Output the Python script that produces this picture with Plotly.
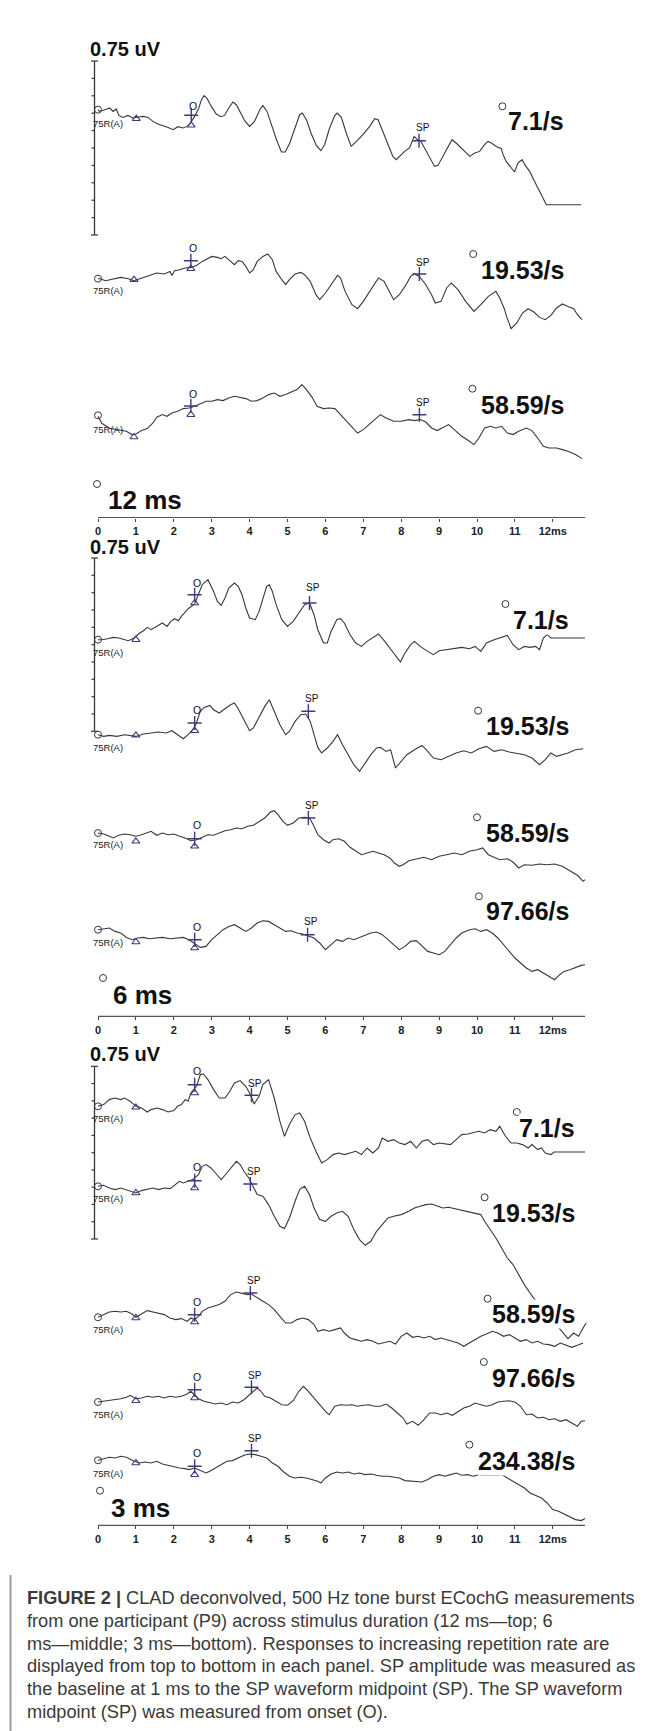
import plotly.graph_objects as go

# ---------------------------------------------------------------------------
# DATA
# waveforms: (time in ms, amplitude in scan units, + = up; the 0.75 uV bar = 173 units)
# ---------------------------------------------------------------------------
DURATIONS = ["12 ms", "6 ms", "3 ms"]
RATES = [
    ["7.1/s", "19.53/s", "58.59/s"],
    ["7.1/s", "19.53/s", "58.59/s", "97.66/s"],
    ["7.1/s", "19.53/s", "58.59/s", "97.66/s", "234.38/s"],
]
TICK_MS = list(range(13))
TICK_LABELS = [str(i) for i in range(12)] + ["12ms"]
SCALE_LABEL = "0.75 uV"
CHANNEL_LABEL = "75R(A)"
ONSET_LABEL = "O"
SP_LABEL = "SP"

# ---- 12 ms panel ----
W12_R7 = [(0.00,0),(0.04,-1.7),(0.18,0),(0.31,1.7),(0.40,-1.7),(0.48,0.7),(0.55,-5.7),(0.66,-7.7),(0.79,-5.7),(0.92,-8.3),(1.06,-7.3),(1.19,-6.7),(1.32,-7.7),(1.45,-11.7),(1.58,-14.3),(1.72,-16),(1.85,-17.7),(1.98,-20),(2.11,-17),(2.24,-18.3),(2.36,-16.7),(2.44,-13.3),(2.55,-6.7),(2.66,1.7),(2.73,10),(2.80,14),(2.88,11),(2.99,3.3),(3.12,-4.3),(3.24,-7),(3.34,-5.7),(3.45,1.7),(3.56,7.7),(3.65,5),(3.74,-1.7),(3.87,-11),(4.00,-16.7),(4.13,-11.7),(4.27,0),(4.35,4.3),(4.46,-1.7),(4.57,-15),(4.71,-30),(4.84,-42.3),(4.94,-42.3),(5.06,-33.3),(5.19,-18.3),(5.32,-5),(5.39,-3.3),(5.50,-10),(5.63,-24.3),(5.76,-35.7),(5.88,-41),(5.98,-35),(6.11,-18.3),(6.25,-5.7),(6.31,-3.3),(6.42,-7.7),(6.55,-23.3),(6.68,-36.7),(6.82,-31.7),(6.99,-25),(7.17,-16.7),(7.30,-9),(7.39,-10),(7.52,-21.7),(7.65,-35),(7.78,-46.7),(7.87,-50),(8.00,-45),(8.09,-41.7),(8.22,-38.3),(8.34,-26.7),(8.43,-30),(8.52,-31.7),(8.64,-40),(8.78,-50),(8.88,-56.7),(8.97,-55.7),(9.10,-46.7),(9.23,-36.7),(9.34,-30),(9.45,-33.3),(9.59,-38.3),(9.72,-43.3),(9.81,-46.7),(9.94,-43.3),(10.07,-41.7),(10.20,-35),(10.29,-31.7),(10.38,-33.3),(10.51,-36.7),(10.64,-39),(10.69,-45),(10.77,-51.7),(10.91,-58.3),(10.99,-62.3),(11.08,-53.3),(11.19,-50),(11.26,-55),(11.39,-61.7),(11.52,-71.7),(11.65,-81.7),(11.83,-95),(12.75,-95)]
W12_R19 = [(0.00,0),(0.05,0),(0.20,-2),(0.40,0),(0.60,1.3),(0.80,0),(0.95,-2),(1.10,0),(1.30,2.3),(1.55,5.7),(1.75,4.7),(1.90,7.3),(1.95,3.3),(2.02,8),(2.15,9),(2.30,10.7),(2.45,11.3),(2.60,13.3),(2.75,17.3),(2.90,20),(3.00,22.3),(3.15,21.3),(3.25,20),(3.35,22.3),(3.50,16.7),(3.60,14),(3.70,18),(3.80,17.3),(3.90,12.3),(4.00,5.7),(4.10,9),(4.20,17.3),(4.35,22.3),(4.48,24.7),(4.60,19),(4.70,7.3),(4.85,-1),(4.95,-6),(5.05,-1),(5.20,4.7),(5.35,6.3),(5.45,4),(5.60,-2.7),(5.75,-16),(5.85,-21),(6.00,-14.3),(6.15,-6),(6.32,3.3),(6.40,0.7),(6.52,-12.7),(6.70,-26),(6.85,-30),(7.00,-22.7),(7.20,-11),(7.40,0.7),(7.55,-2.7),(7.68,-12.7),(7.80,-21),(7.95,-16),(8.10,-7.7),(8.25,2.3),(8.35,4.7),(8.48,2.3),(8.65,-6),(8.80,-16),(8.90,-24.3),(9.05,-22.7),(9.20,-9.3),(9.32,-4.3),(9.50,-11),(9.70,-22.7),(9.92,-32.7),(10.10,-26),(10.30,-17.7),(10.50,-12.7),(10.60,-19.3),(10.72,-30),(10.78,-37.7),(10.90,-50),(11.05,-44.3),(11.20,-34.3),(11.35,-30),(11.50,-33.3),(11.65,-38.7),(11.80,-41),(11.95,-36.7),(12.10,-29.3),(12.25,-25.3),(12.40,-27.7),(12.55,-30),(12.65,-36),(12.77,-41)]
W12_R58 = [(0.00,-1),(0.10,-8),(0.30,-13),(0.60,-15.3),(0.75,-16),(0.90,-19.3),(1.00,-18.7),(1.15,-15.3),(1.30,-13.3),(1.45,-7.7),(1.55,-2),(1.70,0.7),(1.82,-1),(1.95,2.3),(2.10,4),(2.25,6.7),(2.40,7.3),(2.55,9),(2.70,11.3),(2.85,14),(3.00,14),(3.15,15.7),(3.30,14.7),(3.45,17.3),(3.60,19),(3.75,18),(3.90,16.7),(4.05,14),(4.20,14.7),(4.35,17.3),(4.50,20.7),(4.65,22.3),(4.80,19),(4.95,20.7),(5.10,23.3),(5.25,25.7),(5.38,30.7),(5.50,25.7),(5.65,18),(5.78,9),(5.95,6.7),(6.10,7.3),(6.25,6.7),(6.40,0.7),(6.55,-6),(6.70,-11),(6.85,-17.7),(7.00,-14.3),(7.15,-9.3),(7.30,-4.3),(7.45,0.7),(7.60,-2.7),(7.80,-6),(8.00,-6),(8.20,-4.3),(8.35,-5.3),(8.50,-4.3),(8.65,-6.7),(8.80,-12.7),(8.95,-15.3),(9.10,-12.7),(9.25,-9.3),(9.40,-14.3),(9.60,-21),(9.80,-26),(9.92,-29.3),(10.05,-22.7),(10.20,-12.7),(10.35,-11),(10.50,-12.7),(10.65,-11),(10.80,-17.7),(10.95,-19.3),(11.10,-16),(11.30,-12.7),(11.45,-15.3),(11.60,-22.7),(11.75,-31),(11.90,-32.7),(12.10,-32.7),(12.25,-34.3),(12.40,-36),(12.60,-39.3),(12.77,-43.3)]

# ---- 6 ms panel ----
W6_R7 = [(0.00,0),(0.10,0),(0.25,1),(0.40,2.3),(0.55,1.7),(0.70,0),(0.80,-1),(0.95,1.7),(1.10,6.7),(1.20,9),(1.30,12.3),(1.40,10),(1.55,13.3),(1.70,16.7),(1.82,13.3),(1.92,18.3),(2.02,21),(2.12,19),(2.20,23.3),(2.38,31),(2.55,35.7),(2.65,45),(2.75,55),(2.90,60),(3.05,48.3),(3.15,38.3),(3.25,34.3),(3.35,41.7),(3.45,51.7),(3.60,56.7),(3.70,53.3),(3.80,45),(3.90,31.7),(4.00,21.7),(4.15,20),(4.25,28.3),(4.35,41.7),(4.45,53.3),(4.52,55),(4.60,48.3),(4.70,35),(4.85,20),(5.00,13.3),(5.15,18.3),(5.30,26.7),(5.45,35),(5.58,36.7),(5.70,25),(5.80,10),(5.95,-3.3),(6.05,-3.3),(6.15,8.3),(6.30,20),(6.40,21),(6.50,16.7),(6.65,5),(6.80,-3.3),(6.95,-6.7),(7.10,-1.7),(7.25,1.7),(7.40,5.7),(7.55,-1),(7.70,-8.3),(7.85,-16.7),(7.98,-22.3),(8.10,-13.3),(8.25,-5),(8.35,-1.7),(8.50,-6.7),(8.70,-11.7),(8.85,-15),(9.00,-11),(9.20,-10),(9.40,-8.3),(9.60,-7.7),(9.80,-9),(9.95,-6.7),(10.10,-11.7),(10.25,-3.3),(10.45,0),(10.60,1.7),(10.80,4.3),(10.95,-5),(11.10,-10),(11.25,-6.7),(11.40,-7.7),(11.55,-6.7),(11.65,-10),(11.75,1.7),(11.85,5),(11.95,1.7),(12.85,1.7)]
W6_R19 = [(0.00,0),(0.15,-1.7),(0.30,-0.7),(0.50,-1.7),(0.70,0),(0.85,-0.7),(1.00,-1.7),(1.20,0.7),(1.40,1.7),(1.60,2.7),(1.80,1.7),(1.95,4),(2.10,0),(2.25,-4),(2.38,0),(2.50,5),(2.58,10),(2.70,23.3),(2.80,27.3),(2.95,29.3),(3.05,25),(3.20,21.7),(3.35,26),(3.50,30),(3.60,31.7),(3.70,26),(3.85,15),(4.00,4),(4.10,6.7),(4.25,18.3),(4.40,28.3),(4.52,35),(4.65,23.3),(4.80,10),(4.95,0),(5.05,3.3),(5.20,13.3),(5.35,20),(5.48,20.7),(5.60,13.3),(5.70,0),(5.80,-12.7),(5.90,-18.3),(6.05,-13.3),(6.20,-6.7),(6.32,0),(6.45,-10),(6.60,-20),(6.75,-30),(6.90,-36.7),(7.05,-28.3),(7.20,-20),(7.35,-13.3),(7.45,-12.7),(7.60,-16.7),(7.72,-15),(7.85,-33.3),(8.00,-26.7),(8.15,-20),(8.35,-15),(8.55,-10.7),(8.70,-16.7),(8.85,-23.3),(9.05,-25),(9.25,-21.7),(9.45,-18.3),(9.65,-16),(9.85,-18.3),(10.05,-14),(10.25,-11.7),(10.45,-16.7),(10.65,-15),(10.85,-17.3),(11.05,-18.3),(11.25,-20),(11.45,-23.3),(11.65,-30),(11.80,-25),(11.95,-18.3),(12.10,-21.7),(12.25,-20),(12.40,-18.3),(12.60,-15),(12.80,-14)]
W6_R58 = [(0.00,0),(0.15,-1),(0.30,-3.3),(0.40,-5),(0.55,-2.3),(0.70,-1),(0.85,-1.7),(1.00,-3.3),(1.15,-1.7),(1.30,0),(1.40,1.7),(1.55,-2.3),(1.70,0),(1.85,-1.7),(2.00,-1),(2.15,-3.3),(2.30,-5),(2.45,-7.7),(2.60,-6.7),(2.75,-4.3),(2.90,-1.7),(3.05,-2.3),(3.20,0),(3.35,2.3),(3.50,3.3),(3.65,5),(3.80,4.3),(3.95,6.7),(4.10,7.7),(4.25,11.7),(4.40,15),(4.55,21),(4.65,22.3),(4.75,18.3),(4.88,11.7),(5.00,7.7),(5.15,10),(5.30,15),(5.45,15.7),(5.58,15),(5.68,8.3),(5.80,-1.7),(5.95,-6.7),(6.10,-10),(6.20,-6.7),(6.35,-5.7),(6.50,-8.3),(6.65,-14.3),(6.80,-18.3),(6.95,-21.7),(7.10,-20),(7.25,-18.3),(7.40,-20),(7.55,-21.7),(7.70,-25),(7.82,-30),(7.95,-33.3),(8.05,-31.7),(8.20,-27.7),(8.40,-25.7),(8.60,-24.3),(8.80,-26.7),(9.00,-23.3),(9.20,-21.7),(9.40,-20),(9.60,-21.7),(9.80,-18.3),(10.00,-16.7),(10.15,-15),(10.30,-21.7),(10.45,-24.3),(10.60,-26.7),(10.80,-25.7),(10.95,-29),(11.10,-35),(11.25,-31.7),(11.45,-32.3),(11.65,-31),(11.85,-31.7),(12.05,-31),(12.25,-33.3),(12.45,-37.7),(12.65,-42.3),(12.80,-48.3),(12.85,-46.7)]
W6_R97 = [(0.00,0),(0.15,1),(0.30,1.7),(0.45,-1.7),(0.60,-3.3),(0.75,-7.7),(0.90,-10),(1.05,-8.3),(1.20,-7.7),(1.35,-9),(1.50,-8.3),(1.70,-7.7),(1.90,-9),(2.10,-8.3),(2.25,-7.7),(2.40,-10),(2.55,-14.3),(2.70,-17.7),(2.85,-16.7),(3.00,-10),(3.15,-5),(3.30,0),(3.45,3.3),(3.60,5),(3.75,1.7),(3.90,-1.7),(4.05,1.7),(4.20,6.7),(4.35,9),(4.50,8.3),(4.65,5),(4.80,1.7),(4.95,-1.7),(5.10,-1),(5.25,-3.3),(5.40,-4.3),(5.55,-6.7),(5.70,-8.3),(5.85,-13.3),(6.00,-20),(6.15,-15),(6.30,-10),(6.45,-11.7),(6.60,-8.3),(6.75,-10),(6.90,-7.7),(7.05,-5),(7.20,-3.3),(7.35,-2.3),(7.50,-5),(7.65,-10),(7.80,-15),(7.95,-20),(8.10,-16.7),(8.25,-11.7),(8.40,-11),(8.55,-16.7),(8.70,-21.7),(8.85,-23.3),(9.00,-25),(9.15,-21.7),(9.30,-15),(9.45,-8.3),(9.60,-3.3),(9.80,0),(9.95,1),(10.10,-1.7),(10.25,0),(10.40,-3.3),(10.55,-8.3),(10.70,-15),(10.85,-21.7),(11.00,-28.3),(11.15,-33.3),(11.30,-38.3),(11.45,-41.7),(11.60,-40),(11.75,-43.3),(11.90,-46.7),(12.05,-50),(12.18,-45),(12.30,-41.7),(12.45,-40),(12.60,-37.7),(12.75,-35.7),(12.85,-35)]

# ---- 3 ms panel ----
W3_R7 = [(0.00,0),(0.15,1.7),(0.30,6.7),(0.45,8.3),(0.60,6.7),(0.70,8.3),(0.85,5),(1.00,0),(1.15,-1.7),(1.30,-5.7),(1.40,-3.3),(1.55,-1.7),(1.70,-3.3),(1.85,-5.7),(2.00,-4.3),(2.10,0),(2.20,1.7),(2.30,6.7),(2.38,5),(2.45,13.3),(2.60,20),(2.70,31.7),(2.78,32.3),(2.90,26.7),(3.05,16.7),(3.20,8.3),(3.35,8.3),(3.45,13.3),(3.60,23.3),(3.75,25.7),(3.90,20),(4.00,13.3),(4.12,2.3),(4.25,10),(4.35,21.7),(4.50,26.7),(4.65,8.3),(4.80,-15),(4.92,-30),(5.05,-18.3),(5.20,-8.3),(5.32,-6.7),(5.45,-15),(5.60,-31.7),(5.75,-45),(5.90,-56.7),(6.05,-53.3),(6.20,-48.3),(6.35,-46.7),(6.50,-48.3),(6.65,-46.7),(6.80,-45),(6.95,-48.3),(7.10,-41.7),(7.25,-46.7),(7.40,-41.7),(7.50,-31.7),(7.65,-35),(7.80,-33.3),(7.95,-36.7),(8.10,-38.3),(8.25,-35),(8.40,-41.7),(8.55,-35),(8.70,-33.3),(8.85,-38.3),(9.00,-36.7),(9.15,-37.7),(9.30,-38.3),(9.45,-33.3),(9.60,-28.3),(9.75,-27.7),(9.90,-26.7),(10.05,-25),(10.20,-26.7),(10.35,-23.3),(10.50,-25),(10.60,-20),(10.75,-30),(10.90,-36.7),(11.05,-36.7),(11.20,-38.3),(11.35,-41.7),(11.45,-38.3),(11.60,-43.3),(11.70,-41.7),(11.80,-46.7),(11.95,-48.3),(12.03,-45.7),(12.85,-45.7)]
W3_R19 = [(0.00,0),(0.15,1),(0.30,-1.7),(0.45,-3.3),(0.60,-1.7),(0.75,-3.3),(0.90,-5),(1.00,-6.7),(1.15,-4.3),(1.30,-3.3),(1.45,-1.7),(1.60,-3.3),(1.75,-1.7),(1.90,-2.3),(2.05,1.7),(2.15,5),(2.25,3.3),(2.38,5),(2.50,6.7),(2.65,11.7),(2.75,20),(2.85,21.7),(2.98,18.3),(3.10,13.3),(3.25,6.7),(3.40,13.3),(3.55,20),(3.65,25),(3.75,21.7),(3.85,15),(3.98,8.3),(4.10,0),(4.20,-8.3),(4.35,-10),(4.50,-18.3),(4.65,-30),(4.80,-40),(4.92,-42.3),(5.05,-31.7),(5.20,-15),(5.32,-3.3),(5.45,0),(5.58,-8.3),(5.70,-21.7),(5.85,-33.3),(6.00,-35),(6.15,-30),(6.30,-26.7),(6.45,-25),(6.60,-30),(6.75,-43.3),(6.90,-53.3),(7.05,-59),(7.20,-55),(7.35,-45),(7.50,-38.3),(7.65,-31.7),(7.80,-30),(8.00,-28.3),(8.20,-25),(8.35,-21.7),(8.50,-20),(8.65,-18.3),(8.80,-17.7),(8.95,-20),(9.10,-21.7),(9.25,-21),(9.40,-22.3),(9.55,-23.3),(9.70,-25),(9.85,-25.7),(10.00,-27.7),(10.10,-28.3),(10.20,-35),(10.35,-43.3),(10.50,-51.7),(10.65,-61.7),(10.80,-71.7),(10.95,-78.3),(11.10,-88.3),(11.25,-98.3),(11.40,-106.7),(11.48,-111),(11.80,-125),(12.10,-140),(12.18,-142.3),(12.30,-148.3),(12.40,-152.3),(12.55,-146.7),(12.68,-150),(12.80,-141.7),(12.88,-136.7)]
W3_R58 = [(0.00,0),(0.15,2.7),(0.30,5.3),(0.45,6),(0.60,5.3),(0.75,6),(0.90,3.3),(1.00,0),(1.15,3.3),(1.30,6.7),(1.45,5.3),(1.60,4.3),(1.75,2.7),(1.90,-0.7),(2.05,-2.3),(2.20,-1.3),(2.35,-4),(2.45,-0.7),(2.55,-2.3),(2.65,1),(2.75,6),(2.90,9.3),(3.05,11),(3.20,12.7),(3.35,16),(3.50,22.7),(3.65,25.3),(3.80,24.3),(3.95,22.7),(4.05,23.3),(4.20,19.3),(4.35,16),(4.50,12.7),(4.65,7.7),(4.80,1),(4.95,-5.7),(5.10,-5.7),(5.25,-2.3),(5.40,-0.7),(5.55,-2.3),(5.70,-7.3),(5.80,-14),(5.95,-12.3),(6.10,-14),(6.25,-12.3),(6.40,-10.7),(6.50,-15.7),(6.65,-20.7),(6.80,-22.3),(6.95,-24),(7.10,-22.3),(7.25,-24),(7.40,-26.7),(7.55,-25.7),(7.70,-24),(7.85,-26.7),(8.00,-19),(8.15,-15.7),(8.30,-20),(8.45,-19),(8.60,-20.7),(8.75,-19),(8.90,-22.3),(9.05,-20.7),(9.20,-22.3),(9.35,-24),(9.50,-25.7),(9.65,-29),(9.80,-25.7),(9.95,-22.3),(10.10,-19),(10.25,-16.7),(10.40,-14),(10.55,-15.7),(10.70,-19),(10.85,-17.3),(11.00,-20.7),(11.15,-24),(11.30,-22.3),(11.45,-25.7),(11.60,-24),(11.75,-26.7),(11.90,-27.3),(12.05,-29),(12.20,-25.7),(12.35,-28),(12.50,-30),(12.65,-28),(12.80,-25.7)]
W3_R97 = [(0.00,0),(0.15,0.7),(0.30,1.3),(0.45,2.3),(0.60,3.3),(0.75,4.7),(0.85,6.7),(1.00,3.3),(1.15,4),(1.30,5.7),(1.45,4.7),(1.60,5.7),(1.75,4),(1.90,5.7),(2.05,4.7),(2.20,5.7),(2.35,8),(2.45,10.7),(2.55,7.3),(2.65,3.3),(2.80,0.7),(2.95,-1),(3.10,-2),(3.25,-1),(3.40,-2.7),(3.55,0),(3.70,-1),(3.85,2.3),(3.98,6.7),(4.10,10.7),(4.20,14),(4.30,10.7),(4.40,5.7),(4.55,4),(4.70,0.7),(4.85,-2.7),(5.00,-3.3),(5.15,1.3),(5.30,10.7),(5.42,15.7),(5.55,10.7),(5.70,4),(5.85,-2.7),(6.00,-9.3),(6.10,-12.7),(6.25,-4.3),(6.40,-2.7),(6.55,-3.3),(6.70,-2.7),(6.85,-4.3),(7.00,-3.3),(7.15,-2.7),(7.30,-4.3),(7.45,-4.3),(7.60,-2),(7.75,-6),(7.90,-11),(8.05,-16),(8.15,-22),(8.30,-19.3),(8.45,-23.3),(8.60,-17.7),(8.75,-11),(8.90,-11),(9.05,-12.7),(9.20,-11),(9.35,-13.3),(9.50,-9.3),(9.65,-6),(9.80,-4.3),(9.95,-1),(10.10,-2.7),(10.25,-4.3),(10.40,-2.7),(10.55,0),(10.70,0.7),(10.85,1.3),(11.00,0),(11.15,-4.3),(11.30,-12.7),(11.45,-12),(11.60,-16),(11.75,-15.3),(11.90,-17.7),(12.05,-16.7),(12.20,-19.3),(12.35,-17.7),(12.50,-21),(12.65,-24.3),(12.75,-19.3),(12.85,-18.7)]
W3_R234 = [(0.00,0),(0.15,1.7),(0.30,3),(0.45,2.3),(0.60,4),(0.75,3),(0.85,0.7),(0.95,-1),(1.10,-2.7),(1.25,-1.7),(1.40,-2.7),(1.55,-1),(1.70,-3.7),(1.85,-5),(2.00,-7),(2.15,-7.7),(2.30,-8.3),(2.40,-9.3),(2.55,-7.7),(2.70,-10.3),(2.85,-12.7),(2.95,-11),(3.10,-7.7),(3.25,-4.3),(3.40,-1),(3.55,-0.3),(3.70,2.3),(3.85,5),(4.00,6.3),(4.15,5.7),(4.30,4),(4.45,2.3),(4.60,-2.7),(4.75,-6),(4.90,-11.7),(5.05,-16),(5.20,-17.7),(5.35,-17),(5.50,-17.7),(5.65,-19.3),(5.80,-21),(5.88,-22.7),(6.00,-17.7),(6.15,-13.7),(6.30,-11.7),(6.45,-12.7),(6.60,-11.7),(6.75,-13.7),(6.90,-12.7),(7.05,-14.3),(7.20,-13.7),(7.35,-15),(7.50,-16),(7.65,-16),(7.80,-17),(7.95,-17.7),(8.10,-20.3),(8.25,-21),(8.40,-21),(8.55,-21.7),(8.70,-19.3),(8.85,-16),(9.00,-14.3),(9.15,-16),(9.30,-14.3),(9.45,-12.7),(9.60,-15),(9.75,-14.3),(9.90,-16),(10.05,-14.3),(10.20,-15),(10.35,-14.3),(10.50,-15),(10.65,-14.3),(10.80,-17.7),(10.95,-21),(11.10,-24.3),(11.25,-27.7),(11.40,-32.7),(11.55,-35),(11.70,-37.7),(11.85,-42.7),(12.00,-49.3),(12.15,-51),(12.30,-53.7),(12.45,-56),(12.60,-59.3),(12.75,-60.3),(12.85,-58.3)]

WAVES = [[W12_R7, W12_R19, W12_R58],
         [W6_R7, W6_R19, W6_R58, W6_R97],
         [W3_R7, W3_R19, W3_R58, W3_R97, W3_R234]]

# latencies (ms)
BASELINE_MS = [[1.01, 0.95, 0.95], [1.0, 1.0, 1.0, 1.0], [1.0, 1.0, 1.0, 1.0, 1.0]]
ONSET_MS = [[2.46, 2.45, 2.45], [2.55, 2.55, 2.55, 2.55], [2.55, 2.55, 2.55, 2.55, 2.55]]
SP_MS = [[8.47, 8.48, 8.48], [5.58, 5.55, 5.55, 5.53], [4.05, 4.02, 4.02, 4.05, 4.05]]

CAPTION = [
    "<b>FIGURE 2 |</b> CLAD deconvolved, 500 Hz tone burst ECochG measurements",
    "from one participant (P9) across stimulus duration (12 ms\u2014top; 6",
    "ms\u2014middle; 3 ms\u2014bottom). Responses to increasing repetition rate are",
    "displayed from top to bottom in each panel. SP amplitude was measured as",
    "the baseline at 1 ms to the SP waveform midpoint (SP). The SP waveform",
    "midpoint (SP) was measured from onset (O).",
]

# ---------------------------------------------------------------------------
# LAYOUT (page pixels, measured from the top-left of the page)
# ---------------------------------------------------------------------------
W, H = 652, 1731
X0, PPM = 90.0, 37.9          # x pixel of 0 ms, pixels per ms
T_END = 12.85                  # axis line end (ms)

PANELS = [
    dict(scale_y=41, bar=(53, 227), dur=(98, 492), dur_c=(89, 476), axis_y=509.5, right=557,
         rows=[dict(base=101.7, ch=115, tri=110.7, ot=97.7, om=107.3, otri=117.3, st=119, sm=132.7, rc=(10.67, 98.3), rl=113.3),
               dict(base=270.7, ch=282.3, tri=271.7, ot=240, om=252.7, otri=260.7, st=254, sm=266, rc=(9.90, 246), rl=262.3),
               dict(base=407.3, ch=421.7, tri=429, ot=386, om=398, otri=406.7, st=394, sm=406.7, rc=(9.88, 380.7), rl=396.7)]),
    dict(scale_y=539.3, bar=(550, 723.3), dur=(103.4, 986.7), dur_c=(95, 970), axis_y=1008.3, right=562,
         rows=[dict(base=631.7, ch=644, tri=631.7, ot=575, om=586.7, otri=595, st=579.3, sm=595, rc=(10.75, 596), rl=612.3),
               dict(base=726.7, ch=739, tri=727.3, ot=701.7, om=715, otri=722.7, st=690, sm=703.3, rc=(10.03, 702.7), rl=717.7),
               dict(base=825, ch=836.7, tri=833.3, ot=817.3, om=830.7, otri=838.3, st=797.3, sm=810, rc=(10.0, 809.3), rl=825),
               dict(base=921.7, ch=934, tri=934, ot=919.3, om=931.7, otri=940, st=913.3, sm=926.7, rc=(10.05, 888.3), rl=903.3)]),
    dict(scale_y=1046, bar=(1058.3, 1231), dur=(100.8, 1500), dur_c=(92, 1482.7), axis_y=1517.3, right=568,
         rows=[dict(base=1098.3, ch=1110, tri=1099.3, ot=1063.3, om=1076.7, otri=1085, st=1075, sm=1087.3, rc=(11.05, 1104), rl=1120),
               dict(base=1178.3, ch=1190.7, tri=1185, ot=1159.3, om=1172.7, otri=1180, st=1163.3, sm=1176, rc=(10.2, 1189.3), rl=1205),
               dict(base=1309.3, ch=1321.7, tri=1310, ot=1294, om=1306.7, otri=1314, st=1272.7, sm=1285, rc=(10.28, 1290.7), rl=1306),
               dict(base=1394, ch=1406, tri=1392.7, ot=1369.3, om=1381.7, otri=1390, st=1367.3, sm=1379.3, rc=(10.18, 1354), rl=1370),
               dict(base=1452.3, ch=1465, tri=1455, ot=1445, om=1458.3, otri=1466.7, st=1430, sm=1442.7, rc=(9.8, 1436.7), rl=1453.3)]),
]
BAR_X = 86.5
CH_X = 83
CAP_Y0, CAP_DY, CAP_X = 1590, 22.8, 17

INK = "#383838"
NAVY = "#3b3b7d"
TXT = "#111111"


def ms(xpx):
    return (xpx - X0) / PPM


fig = go.Figure()
ann = []

for p, panel in enumerate(PANELS):
    # scale bar
    top, bot = panel["bar"]
    bx = ms(BAR_X)
    fig.add_trace(go.Scatter(x=[bx, bx], y=[-top, -bot], mode="lines",
                             line=dict(color=INK, width=1.3), hoverinfo="skip"))
    cx, cy = [], []
    for yy in (top, bot):
        cx += [ms(BAR_X - 3.5), ms(BAR_X + 3.5), None]
        cy += [-yy, -yy, None]
    for k in range(1, 10):
        yy = top + (bot - top) * k / 10
        cx += [ms(BAR_X - 3), bx, None]
        cy += [-yy, -yy, None]
    fig.add_trace(go.Scatter(x=cx, y=cy, mode="lines", line=dict(color=INK, width=1.2), hoverinfo="skip"))
    ann.append(dict(x=ms(80), y=-panel["scale_y"], text="<b>%s</b>" % SCALE_LABEL, xanchor="left",
                    yanchor="middle", font=dict(size=20, color=TXT)))

    # duration label
    ann.append(dict(x=ms(panel["dur"][0]), y=-panel["dur"][1], text="<b>%s</b>" % DURATIONS[p],
                    xanchor="left", yanchor="middle", font=dict(size=26, color=TXT)))
    fig.add_trace(go.Scatter(x=[ms(panel["dur_c"][0])], y=[-panel["dur_c"][1]], mode="markers",
                             marker=dict(symbol="circle-open", size=7, color=INK, line=dict(width=1)),
                             hoverinfo="skip"))

    # waveforms
    for r, row in enumerate(panel["rows"]):
        wave = WAVES[p][r]
        fig.add_trace(go.Scatter(x=[t for t, a in wave], y=[-row["base"] + a for t, a in wave],
                                 mode="lines", line=dict(color=INK, width=1.1), hoverinfo="skip"))
        # start circle and rate circle
        fig.add_trace(go.Scatter(x=[0, row["rc"][0]], y=[-row["base"], -row["rc"][1]], mode="markers",
                                 marker=dict(symbol="circle-open", size=7, color=INK, line=dict(width=1)),
                                 hoverinfo="skip"))
        # triangles (1 ms baseline and onset)
        fig.add_trace(go.Scatter(x=[BASELINE_MS[p][r], ONSET_MS[p][r]], y=[-row["tri"], -row["otri"]],
                                 mode="markers",
                                 marker=dict(symbol="triangle-up-open", size=7, color=NAVY, line=dict(width=1.1)),
                                 hoverinfo="skip"))
        # cursor crosses (onset and SP)
        fig.add_trace(go.Scatter(x=[ONSET_MS[p][r], SP_MS[p][r]], y=[-row["om"], -row["sm"]],
                                 mode="markers",
                                 marker=dict(symbol="cross-thin-open", size=10, color=NAVY, line=dict(width=1.4, color=NAVY)),
                                 hoverinfo="skip"))
        ann.append(dict(x=ONSET_MS[p][r] + 0.05, y=-row["ot"], text=ONSET_LABEL, xanchor="center",
                        yanchor="middle", font=dict(size=10.5, color=TXT)))
        ann.append(dict(x=SP_MS[p][r] + 0.1, y=-row["st"], text=SP_LABEL, xanchor="center",
                        yanchor="middle", font=dict(size=10, color=TXT)))
        ann.append(dict(x=ms(CH_X), y=-row["ch"], text=CHANNEL_LABEL, xanchor="left",
                        yanchor="middle", font=dict(size=9.5, color="#222222")))
        ann.append(dict(x=ms(panel["right"]), y=-row["rl"], text="<b>%s</b>" % RATES[p][r], xanchor="right",
                        yanchor="middle", font=dict(size=25, color=TXT), bgcolor="white", borderpad=0))

    # time axis line (ticks come from the overlaying axis)
    fig.add_trace(go.Scatter(x=[0, T_END], y=[-panel["axis_y"]] * 2, mode="lines",
                             line=dict(color="#555555", width=1.2), hoverinfo="skip",
                             xaxis="x%d" % (p + 2)))

for a in ann:
    a.update(xref="x", yref="y", showarrow=False)

for i, line in enumerate(CAPTION):
    ann.append(dict(xref="paper", yref="paper", x=CAP_X / W, y=1 - (CAP_Y0 + i * CAP_DY) / H,
                    text=line, showarrow=False, xanchor="left", yanchor="middle",
                    font=dict(size=18.2, color="#3a3a3a", family="Liberation Sans, Arial, sans-serif")))

xr = [ms(0), ms(W)]
layout_axes = {}
for p, panel in enumerate(PANELS):
    layout_axes["xaxis%d" % (p + 2)] = dict(
        overlaying="x", anchor="free", position=1 - panel["axis_y"] / H, range=xr,
        tickvals=TICK_MS, ticktext=TICK_LABELS, ticks="outside", ticklen=3, tickwidth=1,
        tickcolor="#444444", showline=False, showgrid=False, zeroline=False,
        tickfont=dict(size=11, color="#222222", family="Liberation Sans, Arial", weight="bold"),
        fixedrange=True)

fig.update_layout(
    width=W, height=H, margin=dict(l=0, r=0, t=0, b=0),
    paper_bgcolor="white", plot_bgcolor="white", showlegend=False,
    font=dict(family="Liberation Sans, Arial, sans-serif"),
    xaxis=dict(range=xr, visible=False, fixedrange=True),
    yaxis=dict(range=[-H, 0], visible=False, fixedrange=True),
    annotations=ann,
    shapes=[dict(type="line", xref="paper", yref="paper", x0=2.5 / W, x1=2.5 / W,
                 y0=0, y1=1 - 1567 / H, line=dict(color="#9a9a9a", width=2))],
    **layout_axes,
)

fig.write_html("out.html")
